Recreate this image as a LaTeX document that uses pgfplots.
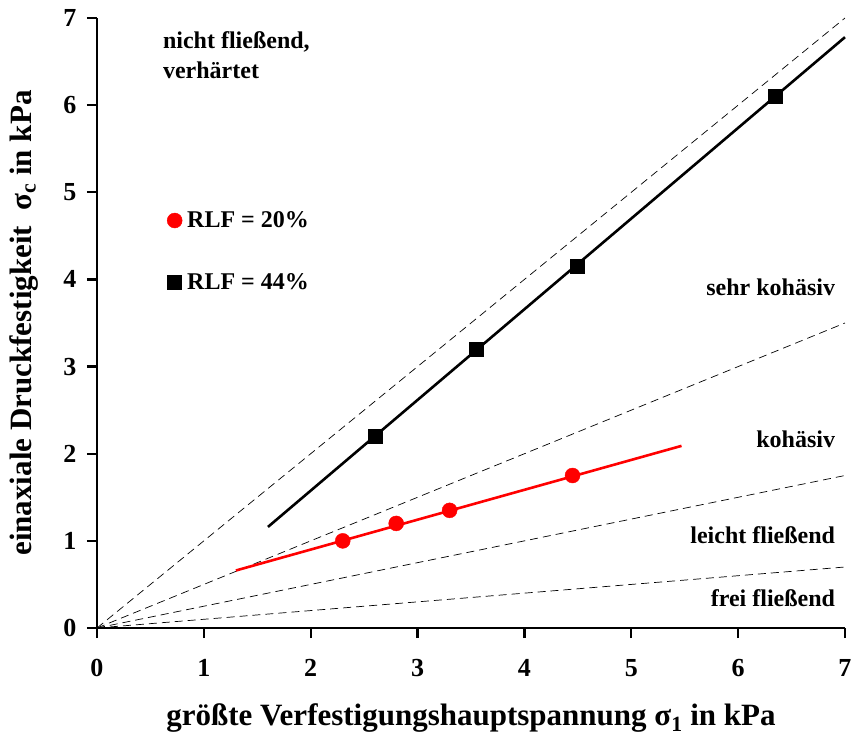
\documentclass[border=0pt]{standalone}
\usepackage{pgfplots}
\pgfplotsset{compat=1.18}
\usetikzlibrary{calc}
\usepackage{fontspec}
\setmainfont{Liberation Serif}

\begin{document}
\begin{tikzpicture}[font=\bfseries]
    \begin{axis}[%
            scale only axis,
            width=748pt,
            height=610pt,
            xmin=0, xmax=7,
            ymin=0, ymax=7,
            axis lines*=left,
            axis line style={line width=2.6pt, -},
            xtick={0,...,7}, ytick={0,...,7},
            tick style={line width=2.4pt, black},
            tick align=outside,
            major tick length=10pt,
            /pgf/number format/assume math mode=true,
            tick label style={font=\fontsize{26}{26}\selectfont\bfseries},
            xticklabel style={yshift=-18pt},
            yticklabel style={xshift=-7pt},
            xlabel={größte Verfestigungshauptspannung σ\textsubscript{1} in kPa},
            ylabel={einaxiale Druckfestigkeit\ \ σ\textsubscript{c} in kPa},
            label style={font=\fontsize{31}{31}\selectfont\bfseries},
            xlabel style={at={(axis description cs:0.5,-0.1475)}, anchor=center},
            ylabel style={at={(axis description cs:-0.097,0.5)}, anchor=center},
            legend style={at={(axis cs:0.655,4.79)}, anchor=north west, draw=none, fill=none,
                font=\fontsize{24}{24}\selectfont\bfseries, row sep=42pt, column sep=4pt,
                inner sep=0pt, nodes={inner sep=1pt}},
            legend cell align=left,
            legend image code/.code={\draw[#1] plot coordinates {(0.1cm,0cm)};},
            clip=false,
        ]
        % Fliessfunktions-Grenzen ffc = 1, 2, 4, 10
        \addplot[black, line width=0.7pt, dash pattern=on 8pt off 5pt, forget plot] coordinates {(0,0) (7,7)};
        \addplot[black, line width=0.7pt, dash pattern=on 8pt off 5pt, forget plot] coordinates {(0,0) (7,3.5)};
        \addplot[black, line width=0.7pt, dash pattern=on 8pt off 5pt, forget plot] coordinates {(0,0) (7,1.75)};
        \addplot[black, line width=0.7pt, dash pattern=on 8pt off 5pt, forget plot] coordinates {(0,0) (7,0.7)};

        % Ausgleichsgeraden
        \addplot[red, line width=2.6pt, forget plot] coordinates {(1.30,0.66) (5.47,2.09)};
        \addplot[black, line width=2.6pt, forget plot] coordinates {(1.60,1.16) (7.00,6.78)};

        % Messpunkte
        \addplot[only marks, mark=*, mark size=7.5pt, red, mark options={draw=red, fill=red}]
            coordinates {(2.30,1.00) (2.80,1.20) (3.30,1.35) (4.45,1.75)};
        \addlegendentry{RLF = 20\%}
        \addplot[only marks, mark=square*, mark size=7pt, black, mark options={draw=black, fill=black}]
            coordinates {(2.60,2.20) (3.55,3.20) (4.49,4.15) (6.35,6.10)};
        \addlegendentry{RLF = 44\%}

        \node[anchor=west, align=left, font=\fontsize{24}{30}\selectfont\bfseries]
            at (axis cs:0.585,6.575) {nicht fließend,\\verhärtet};
        \node[anchor=east, font=\fontsize{24}{24}\selectfont\bfseries] at (axis cs:6.94,3.91) {sehr kohäsiv};
        \node[anchor=east, font=\fontsize{24}{24}\selectfont\bfseries] at (axis cs:6.94,2.17) {kohäsiv};
        \node[anchor=east, font=\fontsize{24}{24}\selectfont\bfseries] at (axis cs:6.94,1.067) {leicht fließend};
        \node[anchor=east, font=\fontsize{24}{24}\selectfont\bfseries] at (axis cs:6.94,0.344) {frei fließend};

        \coordinate (ll) at (rel axis cs:0,0);
    \end{axis}
    \pgfresetboundingbox
    \path[use as bounding box] ($(ll)+(-97pt,-116pt)$) rectangle ($(ll)+(757pt,628pt)$);
\end{tikzpicture}
\end{document}
